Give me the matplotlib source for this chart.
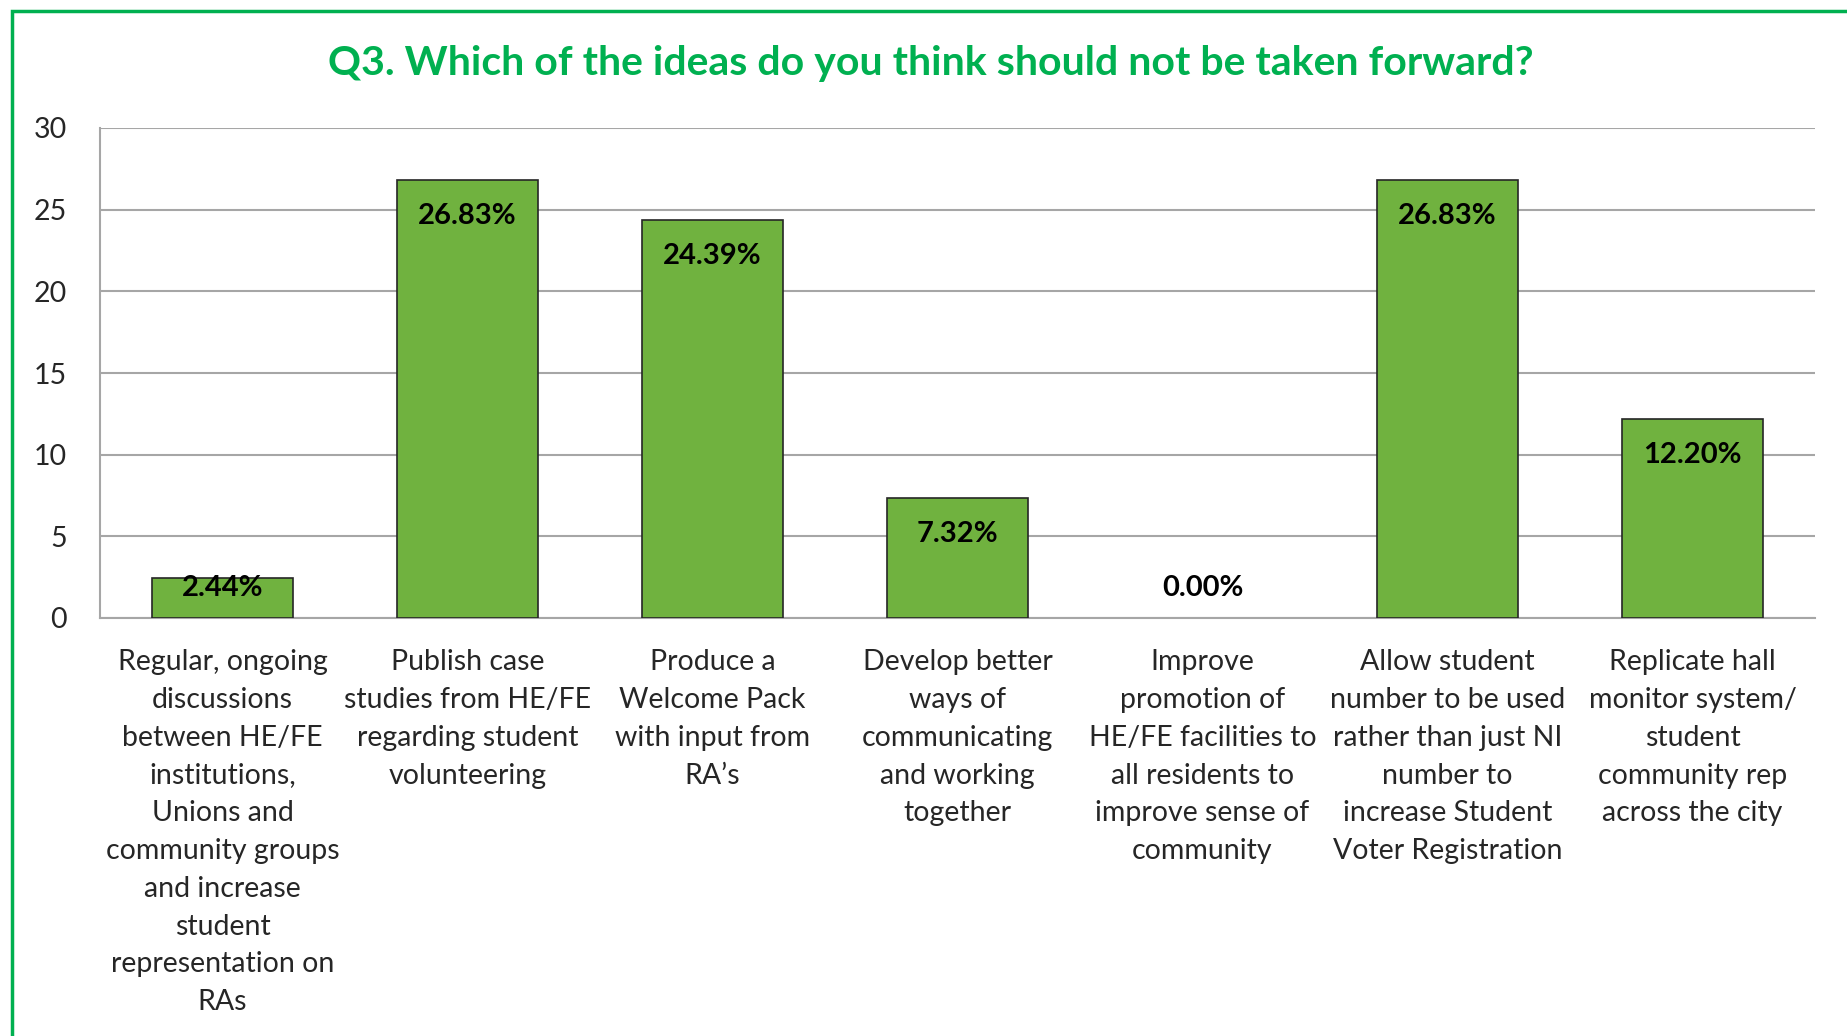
import matplotlib
matplotlib.use("Agg")
import matplotlib.pyplot as plt
from matplotlib.patches import Rectangle

categories = [
    "Regular, ongoing\ndiscussions\nbetween HE/FE\ninstitutions,\nUnions and\ncommunity groups\nand increase\nstudent\nrepresentation on\nRAs",
    "Publish case\nstudies from HE/FE\nregarding student\nvolunteering",
    "Produce a\nWelcome Pack\nwith input from\nRA\u2019s",
    "Develop better\nways of\ncommunicating\nand working\ntogether",
    "Improve\npromotion of\nHE/FE facilities to\nall residents to\nimprove sense of\ncommunity",
    "Allow student\nnumber to be used\nrather than just NI\nnumber to\nincrease Student\nVoter Registration",
    "Replicate hall\nmonitor system/\nstudent\ncommunity rep\nacross the city",
]
values = [2.44, 26.83, 24.39, 7.32, 0.00, 26.83, 12.20]
yticks = [0, 5, 10, 15, 20, 25, 30]
title = "Q3. Which of the ideas do you think should not be taken forward?"

plt.rcParams['font.family'] = ['Lato', 'DejaVu Sans']

W, H = 1847, 1036
fig = plt.figure(figsize=(W / 100, H / 100), dpi=100)
ax = fig.add_axes([100 / W, 1 - 618 / H, (1815 - 100) / W, (618 - 128) / H])

x = range(len(values))
# zero-height bars get no outline (Excel draws nothing there)
ax.bar(x, values, width=0.575, color="#70B23F",
       edgecolor=["#262626" if v > 0 else "none" for v in values],
       linewidth=1.2, zorder=3)

for i, v in enumerate(values):
    ax.text(i, max(v - 2.2, 1.85), f"{v:.2f}%", ha="center", va="center",
            fontsize=21, fontweight="bold", color="black", zorder=4)

ax.set_xlim(-0.5, len(values) - 0.5)
ax.set_ylim(0, 30)
ax.set_yticks(yticks)
ax.set_yticklabels([str(t) for t in yticks], fontsize=20.5, color="#262626")
ax.set_xticks(list(x))
ax.set_xticklabels(categories, fontsize=20.5, color="#262626", linespacing=1.56)
ax.tick_params(axis="both", length=0)
ax.tick_params(axis="y", pad=24)
ax.tick_params(axis="x", pad=22.5)
ax.yaxis.grid(True, color="#A6A6A6", linewidth=1.5, zorder=0)
for s in ["top", "right"]:
    ax.spines[s].set_visible(False)
for s in ["left", "bottom"]:
    ax.spines[s].set_color("#A6A6A6")
    ax.spines[s].set_linewidth(1.5)

fig.text(931 / W, 1 - 63 / H, title, ha="center", va="center",
         fontsize=29.5, fontweight="bold", color="#00B050")

# green frame (runs past the right and bottom edges)
fig.patches.append(Rectangle((12 / W, -0.05), 1.1, 1 - 11 / H + 0.05,
                             transform=fig.transFigure, fill=False,
                             edgecolor="#00B050", linewidth=2.5))

fig.savefig("out.png", dpi=100)
